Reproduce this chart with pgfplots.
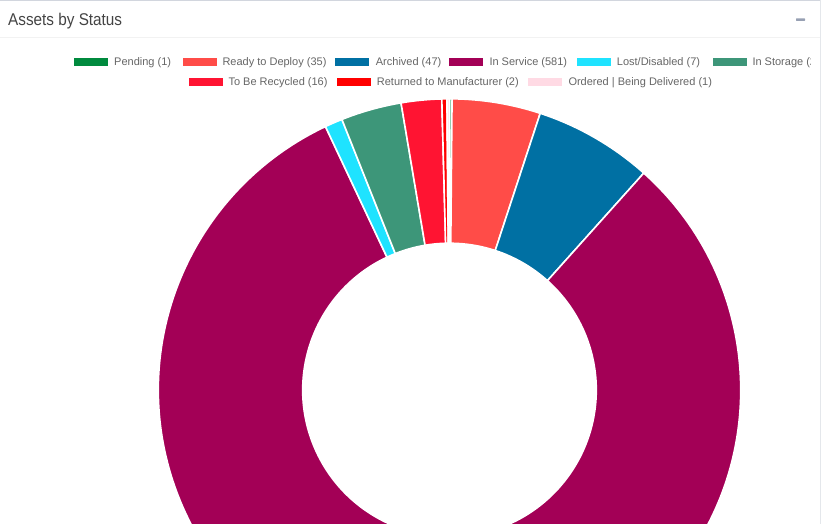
\documentclass[border=0pt]{standalone}
\usepackage{pgfplots}
\pgfplotsset{compat=1.18}
\usepackage{pgfplotstable}
\usepackage{fontspec}
\setmainfont{Liberation Sans}
\usetikzlibrary{calc}

\definecolor{cPending}{HTML}{008A3E}
\definecolor{cReady}{HTML}{FF4C48}
\definecolor{cArchived}{HTML}{0070A3}
\definecolor{cService}{HTML}{A30056}
\definecolor{cLost}{HTML}{1FE3FF}
\definecolor{cStorage}{HTML}{3D9679}
\definecolor{cRecycle}{HTML}{FF1432}
\definecolor{cReturned}{HTML}{FF0000}
\definecolor{cOrdered}{HTML}{FFDAE4}
\definecolor{cTitle}{HTML}{444444}
\definecolor{cLegend}{HTML}{666666}
\definecolor{cBorder}{HTML}{D2D6DE}
\definecolor{cSep}{HTML}{F2F2F2}
\definecolor{cTool}{HTML}{97A0B3}

\pgfplotstableread[col sep=comma]{
status,value,color
Pending,1,cPending
Ready to Deploy,35,cReady
Archived,47,cArchived
In Service,581,cService
Lost/Disabled,7,cLost
In Storage,24,cStorage
To Be Recycled,16,cRecycle
Returned to Manufacturer,2,cReturned
Ordered,1,cOrdered
}\statustable

\pgfplotstablegetrowsof{\statustable}
\pgfmathtruncatemacro\nrows{\pgfplotsretval-1}
\def\cum{0}
\pgfplotsforeachungrouped \i in {0,...,\nrows}{%
  \pgfplotstablegetelem{\i}{value}\of\statustable
  \pgfmathsetmacro\cum{\cum+\pgfplotsretval}%
}
\let\total\cum
\pgfmathsetmacro\degper{360/\total}

\def\cx{449.5}
\def\cy{390}
\def\Ro{291.2pt}
\def\Ri{146.8pt}

\begin{document}
\begin{tikzpicture}[x=1pt,y=1pt]
\useasboundingbox (0,0) rectangle (821,524);
\clip (0,0) rectangle (821,524);
\fill[white] (0,0) rectangle (821,524);

\begin{axis}[at={(0,0)}, anchor=south west, scale only axis,
  width=821pt, height=524pt, xmin=0, xmax=821, ymin=0, ymax=524,
  y dir=reverse, hide axis, clip=true]
\def\cum{0}
\pgfplotsforeachungrouped \i in {0,...,\nrows}{%
  \pgfplotstablegetelem{\i}{value}\of\statustable \let\v\pgfplotsretval
  \pgfplotstablegetelem{\i}{color}\of\statustable \let\c\pgfplotsretval
  \pgfmathsetmacro\ta{90-\degper*\cum}%
  \pgfmathsetmacro\cum{\cum+\v}%
  \pgfmathsetmacro\tb{90-\degper*\cum}%
  \edef\temp{\noexpand\filldraw[fill=\c, draw=white, line width=1.6pt, line join=round]
     ([shift={(\ta:\Ro)}]axis cs:\cx,\cy) arc[start angle=\ta, end angle=\tb, radius=\Ro]
     -- ([shift={(\tb:\Ri)}]axis cs:\cx,\cy) arc[start angle=\tb, end angle=\ta, radius=\Ri] -- cycle;}%
  \temp
}
\end{axis}

% panel header
\fill[cBorder] (0,522.8) rectangle (821,524);
\fill[cBorder!60] (820,0) rectangle (821,524);
\fill[cSep] (0,485.5) rectangle (820,486.8);
\node[anchor=base west, inner sep=0pt, text=cTitle, font=\fontsize{17}{20}\selectfont]
  at (8,498.7) {\scalebox{0.9}[1]{Assets by Status}};
\fill[cTool, rounded corners=0.6pt] (796,503) rectangle (805,505.7);

% legend
\begin{scope}
\clip (0,430) rectangle (810,480);
\foreach \sx/\tx/\yy/\col/\lab in {
  74/114/0/cPending/{Pending (1)},
  182.7/222.3/0/cReady/{Ready to Deploy (35)},
  335.3/375.7/0/cArchived/{Archived (47)},
  449.3/489.3/0/cService/{In Service (581)},
  576.7/616.7/0/cLost/{Lost/Disabled (7)},
  712.7/752.3/0/cStorage/{In Storage (24)},
  189/228.3/1/cRecycle/{To Be Recycled (16)},
  337.3/376.7/1/cReturned/{Returned to Manufacturer (2)},
  528.3/568.3/1/cOrdered/{Ordered | Being Delivered (1)}}{
  \pgfmathsetmacro\sy{458-20*\yy}
  \pgfmathsetmacro\by{458.7-20*\yy}
  \fill[\col] (\sx,\sy) rectangle ++(34,8.3);
  \node[anchor=base west, inner sep=0pt, text=cLegend, font=\fontsize{11}{13}\selectfont]
    at (\tx,\by) {\lab};
}
\end{scope}
\end{tikzpicture}
\end{document}
